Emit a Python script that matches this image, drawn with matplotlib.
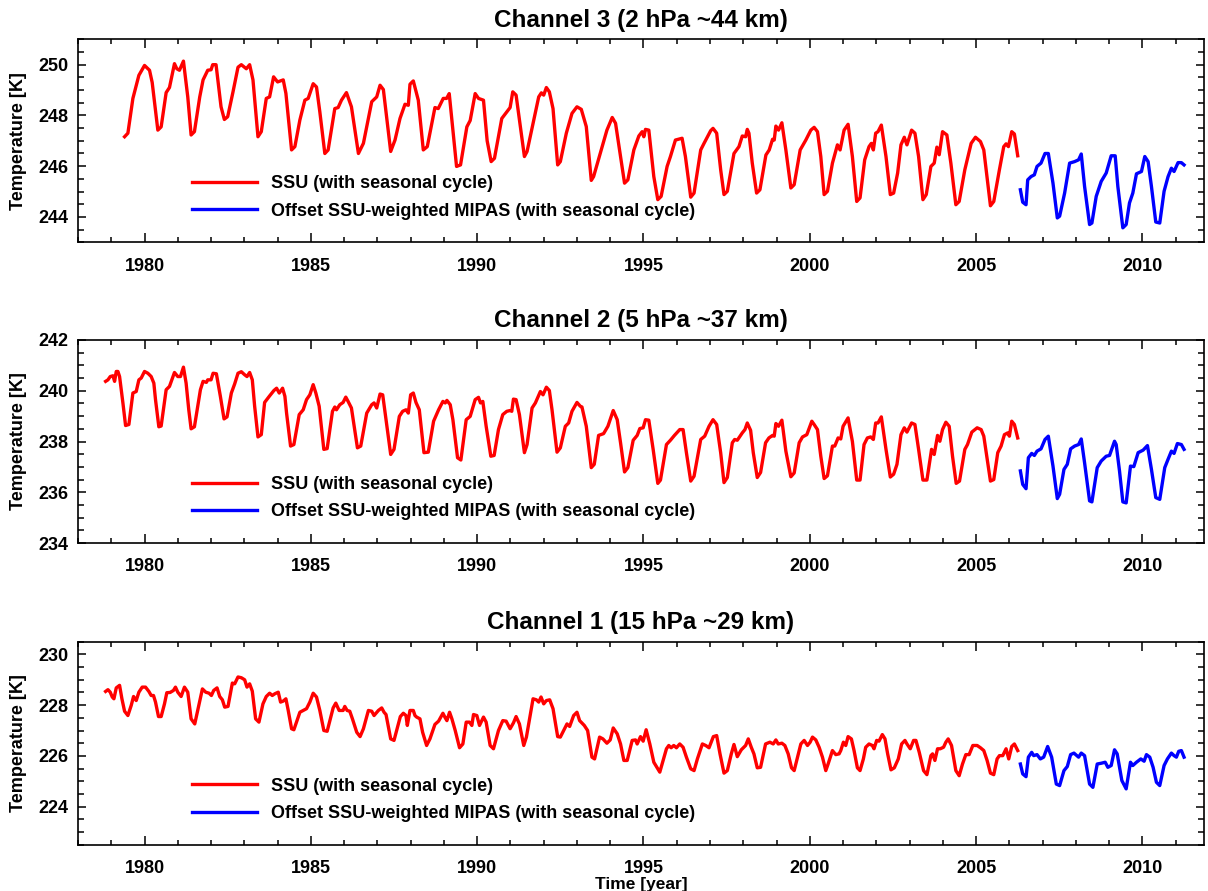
import matplotlib
matplotlib.use("Agg")
import matplotlib.pyplot as plt
from matplotlib.ticker import MultipleLocator

plt.rcParams['font.family'] = ['Liberation Sans', 'DejaVu Sans']
plt.rcParams['font.weight'] = 'bold'

# ---------------- Channel 3 (2 hPa) ----------------
ssu3_t = [1979.40, 1979.50, 1979.65, 1979.83, 1980.00, 1980.15, 1980.23, 1980.40, 1980.50, 1980.65,
          1980.75, 1980.90, 1980.97, 1981.05, 1981.17, 1981.30, 1981.40, 1981.50, 1981.66, 1981.76,
          1981.90, 1982.00, 1982.05, 1982.15, 1982.30, 1982.40, 1982.50, 1982.66, 1982.81, 1982.91,
          1983.06, 1983.16, 1983.26, 1983.41, 1983.51, 1983.66, 1983.76, 1983.88, 1984.00, 1984.17,
          1984.25, 1984.42, 1984.52, 1984.67, 1984.82, 1984.92, 1985.07, 1985.17, 1985.27, 1985.42,
          1985.52, 1985.72, 1985.82, 1985.92, 1986.07, 1986.22, 1986.43, 1986.58, 1986.83, 1986.98,
          1987.08, 1987.18, 1987.40, 1987.53, 1987.68, 1987.83, 1987.93, 1987.98, 1988.08, 1988.23,
          1988.38, 1988.50, 1988.73, 1988.83, 1988.98, 1989.08, 1989.16, 1989.38, 1989.50, 1989.69,
          1989.79, 1989.94, 1990.04, 1990.19, 1990.30, 1990.42, 1990.52, 1990.74, 1990.99, 1991.07,
          1991.17, 1991.42, 1991.50, 1991.70, 1991.85, 1991.93, 1992.00, 1992.08, 1992.17, 1992.28,
          1992.42, 1992.50, 1992.68, 1992.85, 1993.00, 1993.13, 1993.28, 1993.43, 1993.50, 1993.70,
          1993.90, 1994.06, 1994.16, 1994.31, 1994.43, 1994.53, 1994.71, 1994.86, 1994.96, 1995.01,
          1995.06, 1995.16, 1995.31, 1995.43, 1995.53, 1995.71, 1995.81, 1995.96, 1996.16, 1996.26,
          1996.42, 1996.52, 1996.72, 1996.82, 1997.02, 1997.09, 1997.20, 1997.32, 1997.42, 1997.52,
          1997.72, 1997.87, 1997.97, 1998.07, 1998.12, 1998.17, 1998.27, 1998.40, 1998.50, 1998.68,
          1998.78, 1998.88, 1998.93, 1998.98, 1999.06, 1999.16, 1999.28, 1999.43, 1999.53, 1999.71,
          1999.88, 2000.03, 2000.13, 2000.23, 2000.33, 2000.43, 2000.53, 2000.68, 2000.83, 2000.91,
          2001.03, 2001.15, 2001.28, 2001.41, 2001.51, 2001.65, 2001.78, 2001.85, 2001.91, 2001.98,
          2002.05, 2002.15, 2002.29, 2002.42, 2002.52, 2002.64, 2002.74, 2002.84, 2002.92, 2003.06,
          2003.16, 2003.27, 2003.40, 2003.50, 2003.64, 2003.74, 2003.82, 2003.89, 2003.99, 2004.12,
          2004.24, 2004.39, 2004.49, 2004.66, 2004.85, 2004.98, 2005.13, 2005.23, 2005.30, 2005.43,
          2005.53, 2005.70, 2005.83, 2005.90, 2005.97, 2006.07, 2006.15, 2006.25]
ssu3_v = [247.16, 247.30, 248.67, 249.58, 249.97, 249.78, 249.30, 247.42, 247.55, 248.90,
          249.10, 250.04, 249.84, 249.78, 250.14, 248.73, 247.23, 247.36, 248.73, 249.40,
          249.78, 249.80, 250.00, 250.00, 248.34, 247.84, 247.95, 248.93, 249.90, 250.00,
          249.84, 250.00, 249.40, 247.16, 247.36, 248.67, 248.73, 249.52, 249.32, 249.40,
          248.87, 246.64, 246.77, 247.82, 248.60, 248.67, 249.25, 249.12, 248.14, 246.50,
          246.64, 248.27, 248.31, 248.60, 248.90, 248.34, 246.50, 246.90, 248.54, 248.73,
          249.19, 249.02, 246.58, 247.03, 247.88, 248.44, 248.40, 249.23, 249.36, 248.60,
          246.64, 246.77, 248.31, 248.27, 248.67, 248.67, 248.86, 245.99, 246.05, 247.55,
          247.80, 248.86, 248.67, 248.60, 247.00, 246.18, 246.31, 247.88, 248.31, 248.93,
          248.80, 246.38, 246.58, 247.82, 248.73, 248.89, 248.80, 249.10, 248.93, 248.27,
          246.05, 246.18, 247.30, 248.08, 248.34, 248.24, 247.56, 245.44, 245.59, 246.50,
          247.42, 247.92, 247.69, 246.38, 245.33, 245.46, 246.64, 247.19, 247.36, 247.16,
          247.45, 247.42, 245.59, 244.68, 244.81, 245.99, 246.38, 247.03, 247.10, 246.38,
          244.78, 244.94, 246.64, 246.90, 247.40, 247.49, 247.30, 245.86, 244.88, 245.01,
          246.50, 246.77, 247.19, 247.16, 247.45, 247.30, 246.12, 244.94, 245.07, 246.44,
          246.64, 247.06, 247.03, 247.58, 247.42, 247.71, 246.64, 245.14, 245.27, 246.64,
          247.03, 247.42, 247.53, 247.36, 246.38, 244.88, 245.01, 246.12, 246.84, 246.64,
          247.42, 247.65, 246.38, 244.61, 244.75, 246.25, 246.77, 246.90, 246.64, 247.30,
          247.36, 247.62, 246.38, 244.88, 244.94, 245.73, 246.84, 247.14, 246.84, 247.42,
          247.30, 246.38, 244.68, 244.88, 245.99, 246.12, 246.75, 246.45, 247.36, 247.23,
          246.12, 244.48, 244.61, 245.86, 246.90, 247.14, 246.97, 246.64, 245.86, 244.44,
          244.61, 245.86, 246.77, 246.88, 246.77, 247.36, 247.27, 246.41]
mip3_t = [2006.33, 2006.40, 2006.50, 2006.55, 2006.65, 2006.75, 2006.83, 2006.95, 2007.07, 2007.17,
          2007.31, 2007.44, 2007.51, 2007.66, 2007.81, 2007.96, 2008.08, 2008.16, 2008.26, 2008.41,
          2008.48, 2008.61, 2008.76, 2008.91, 2009.06, 2009.18, 2009.26, 2009.41, 2009.51, 2009.61,
          2009.71, 2009.82, 2009.97, 2010.07, 2010.17, 2010.27, 2010.40, 2010.52, 2010.65, 2010.77,
          2010.87, 2010.95, 2011.07, 2011.17, 2011.25]
mip3_v = [245.07, 244.58, 244.48, 245.46, 245.59, 245.66, 245.99, 246.12, 246.50, 246.50,
          245.33, 243.96, 244.03, 244.94, 246.12, 246.18, 246.25, 246.48, 245.20, 243.70,
          243.76, 244.81, 245.40, 245.73, 246.41, 246.41, 245.20, 243.57, 243.70, 244.55,
          244.94, 245.70, 245.79, 246.38, 246.18, 245.20, 243.80, 243.76, 245.01, 245.59,
          245.92, 245.79, 246.14, 246.14, 246.05]

# ---------------- Channel 2 (5 hPa) ----------------
ssu2_t = [1978.83, 1978.90, 1978.97, 1979.05, 1979.10, 1979.15, 1979.20, 1979.25, 1979.35, 1979.43,
          1979.53, 1979.65, 1979.75, 1979.83, 1979.90, 1980.00, 1980.10, 1980.20, 1980.28, 1980.33,
          1980.43, 1980.50, 1980.65, 1980.75, 1980.90, 1981.00, 1981.08, 1981.17, 1981.25, 1981.33,
          1981.40, 1981.50, 1981.68, 1981.76, 1981.86, 1981.90, 1982.00, 1982.06, 1982.16, 1982.28,
          1982.39, 1982.48, 1982.61, 1982.71, 1982.81, 1982.91, 1983.01, 1983.08, 1983.16, 1983.24,
          1983.31, 1983.41, 1983.51, 1983.61, 1983.75, 1983.89, 1983.97, 1984.05, 1984.15, 1984.22,
          1984.27, 1984.39, 1984.49, 1984.65, 1984.77, 1984.87, 1984.97, 1985.07, 1985.15, 1985.25,
          1985.39, 1985.49, 1985.65, 1985.72, 1985.77, 1985.87, 1985.97, 1986.05, 1986.12, 1986.22,
          1986.40, 1986.50, 1986.68, 1986.83, 1986.90, 1986.98, 1987.08, 1987.16, 1987.26, 1987.40,
          1987.50, 1987.66, 1987.76, 1987.86, 1987.93, 1988.00, 1988.08, 1988.16, 1988.26, 1988.40,
          1988.53, 1988.69, 1988.84, 1988.97, 1989.04, 1989.09, 1989.19, 1989.27, 1989.41, 1989.51,
          1989.67, 1989.79, 1989.94, 1990.04, 1990.10, 1990.17, 1990.27, 1990.41, 1990.51, 1990.64,
          1990.77, 1990.89, 1990.99, 1991.04, 1991.09, 1991.17, 1991.27, 1991.42, 1991.50, 1991.65,
          1991.75, 1991.90, 1991.98, 1992.08, 1992.17, 1992.25, 1992.40, 1992.50, 1992.65, 1992.75,
          1992.85, 1993.00, 1993.10, 1993.15, 1993.28, 1993.43, 1993.52, 1993.65, 1993.80, 1993.93,
          1994.09, 1994.21, 1994.31, 1994.43, 1994.53, 1994.69, 1994.81, 1994.89, 1994.99, 1995.06,
          1995.16, 1995.29, 1995.43, 1995.51, 1995.69, 1995.81, 1995.93, 1996.09, 1996.19, 1996.29,
          1996.42, 1996.52, 1996.72, 1996.84, 1996.97, 1997.09, 1997.20, 1997.32, 1997.42, 1997.52,
          1997.67, 1997.74, 1997.82, 1997.97, 1998.05, 1998.12, 1998.22, 1998.30, 1998.42, 1998.52,
          1998.67, 1998.77, 1998.88, 1998.93, 1998.98, 1999.06, 1999.16, 1999.28, 1999.43, 1999.53,
          1999.68, 1999.78, 1999.91, 2000.06, 2000.13, 2000.23, 2000.33, 2000.43, 2000.53, 2000.68,
          2000.75, 2000.85, 2000.93, 2001.00, 2001.15, 2001.28, 2001.41, 2001.51, 2001.63, 2001.73,
          2001.83, 2001.91, 2001.98, 2002.05, 2002.15, 2002.29, 2002.42, 2002.52, 2002.62, 2002.74,
          2002.84, 2002.92, 2003.06, 2003.16, 2003.27, 2003.40, 2003.52, 2003.66, 2003.74, 2003.84,
          2003.91, 2003.99, 2004.09, 2004.19, 2004.29, 2004.40, 2004.50, 2004.66, 2004.74, 2004.87,
          2005.03, 2005.15, 2005.23, 2005.32, 2005.43, 2005.53, 2005.65, 2005.75, 2005.85, 2005.95,
          2006.00, 2006.07, 2006.15, 2006.25]
ssu2_v = [240.37, 240.43, 240.56, 240.59, 240.37, 240.76, 240.76, 240.56, 239.52, 238.63,
          238.67, 239.91, 239.97, 240.43, 240.50, 240.76, 240.69, 240.56, 240.30, 239.65,
          238.58, 238.61, 240.04, 240.17, 240.72, 240.56, 240.56, 240.93, 240.30, 239.25,
          238.50, 238.58, 240.04, 240.37, 240.33, 240.43, 240.43, 240.69, 240.67, 239.78,
          238.89, 238.97, 239.91, 240.27, 240.69, 240.75, 240.63, 240.56, 240.72, 240.43,
          239.39, 238.18, 238.27, 239.54, 239.78, 240.01, 240.10, 239.91, 240.10, 239.78,
          239.12, 237.82, 237.88, 239.06, 239.25, 239.65, 239.84, 240.24, 239.91, 239.39,
          237.69, 237.72, 239.19, 239.36, 239.25, 239.45, 239.54, 239.75, 239.58, 239.32,
          237.75, 237.82, 239.12, 239.45, 239.52, 239.32, 239.87, 239.84, 238.86, 237.49,
          237.69, 238.99, 239.19, 239.25, 239.12, 239.84, 239.91, 239.54, 239.25, 237.56,
          237.58, 238.80, 239.25, 239.58, 239.52, 239.62, 239.45, 238.86, 237.36, 237.27,
          238.86, 238.99, 239.65, 239.74, 239.52, 239.58, 238.60, 237.42, 237.45, 238.47,
          239.06, 239.19, 239.22, 239.19, 239.67, 239.65, 239.06, 237.56, 237.88, 239.32,
          239.52, 239.97, 239.84, 240.14, 240.01, 239.25, 237.58, 237.75, 238.60, 238.73,
          239.19, 239.54, 239.39, 239.36, 238.60, 236.97, 237.10, 238.24, 238.31, 238.60,
          239.22, 238.86, 237.95, 236.80, 236.97, 238.05, 238.24, 238.51, 238.54, 238.86,
          238.84, 237.69, 236.35, 236.48, 237.88, 238.05, 238.24, 238.47, 238.47, 237.56,
          236.44, 236.63, 238.08, 238.21, 238.60, 238.86, 238.67, 237.56, 236.38, 236.58,
          237.95, 238.08, 238.05, 238.34, 238.47, 238.73, 238.44, 237.56, 236.58, 236.78,
          237.95, 238.14, 238.24, 238.21, 238.71, 238.60, 238.84, 237.62, 236.61, 236.76,
          237.95, 238.18, 238.27, 238.80, 238.67, 238.47, 237.42, 236.54, 236.65, 237.82,
          237.82, 238.14, 238.10, 238.60, 238.93, 238.00, 236.48, 236.48, 237.88, 238.14,
          238.18, 238.08, 238.73, 238.73, 238.97, 237.69, 236.60, 236.71, 237.10, 238.27,
          238.54, 238.37, 238.73, 238.67, 237.69, 236.48, 236.48, 237.69, 237.49, 238.24,
          238.01, 238.47, 238.76, 238.60, 237.42, 236.35, 236.44, 237.69, 237.88, 238.37,
          238.54, 238.47, 238.21, 237.42, 236.44, 236.50, 237.56, 237.82, 238.27, 238.34,
          238.21, 238.80, 238.67, 238.14]
mip2_t = [2006.33, 2006.40, 2006.50, 2006.57, 2006.67, 2006.75, 2006.83, 2006.95, 2007.07, 2007.17,
          2007.31, 2007.44, 2007.51, 2007.64, 2007.74, 2007.84, 2007.96, 2008.08, 2008.16, 2008.26,
          2008.41, 2008.48, 2008.64, 2008.76, 2008.91, 2009.01, 2009.16, 2009.21, 2009.31, 2009.41,
          2009.51, 2009.64, 2009.74, 2009.87, 2010.02, 2010.15, 2010.27, 2010.40, 2010.52, 2010.67,
          2010.77, 2010.87, 2010.95, 2011.05, 2011.17, 2011.25]
mip2_v = [236.84, 236.31, 236.14, 237.36, 237.53, 237.45, 237.62, 237.71, 238.08, 238.21,
          237.03, 235.75, 235.92, 236.90, 237.10, 237.71, 237.82, 237.88, 238.10, 237.16,
          235.66, 235.62, 236.97, 237.23, 237.42, 237.45, 238.01, 237.88, 236.84, 235.62,
          235.58, 237.03, 237.01, 237.56, 237.66, 237.84, 236.90, 235.79, 235.72, 236.97,
          237.30, 237.62, 237.53, 237.92, 237.88, 237.69]

# ---------------- Channel 1 (15 hPa) ----------------
ssu1_t = [1978.83, 1978.90, 1978.97, 1979.03, 1979.08, 1979.15, 1979.25, 1979.32, 1979.40, 1979.50,
          1979.60, 1979.67, 1979.75, 1979.83, 1979.93, 1980.03, 1980.13, 1980.20, 1980.27, 1980.33,
          1980.42, 1980.50, 1980.60, 1980.67, 1980.77, 1980.87, 1980.93, 1981.00, 1981.10, 1981.20,
          1981.30, 1981.40, 1981.51, 1981.61, 1981.74, 1981.84, 1981.94, 1982.01, 1982.08, 1982.18,
          1982.26, 1982.34, 1982.41, 1982.51, 1982.64, 1982.71, 1982.81, 1982.91, 1983.01, 1983.08,
          1983.16, 1983.24, 1983.34, 1983.44, 1983.56, 1983.66, 1983.76, 1983.84, 1983.92, 1984.02,
          1984.09, 1984.17, 1984.25, 1984.32, 1984.42, 1984.49, 1984.67, 1984.77, 1984.87, 1984.97,
          1985.07, 1985.17, 1985.27, 1985.39, 1985.49, 1985.67, 1985.75, 1985.85, 1985.97, 1986.02,
          1986.09, 1986.17, 1986.25, 1986.38, 1986.48, 1986.58, 1986.73, 1986.83, 1986.90, 1987.03,
          1987.13, 1987.20, 1987.26, 1987.40, 1987.50, 1987.63, 1987.69, 1987.78, 1987.86, 1987.90,
          1987.98, 1988.08, 1988.13, 1988.18, 1988.28, 1988.36, 1988.48, 1988.58, 1988.73, 1988.84,
          1988.97, 1989.04, 1989.09, 1989.17, 1989.24, 1989.34, 1989.47, 1989.57, 1989.67, 1989.77,
          1989.84, 1989.89, 1989.99, 1990.07, 1990.19, 1990.27, 1990.39, 1990.49, 1990.64, 1990.77,
          1990.87, 1990.99, 1991.09, 1991.17, 1991.27, 1991.40, 1991.48, 1991.60, 1991.68, 1991.78,
          1991.85, 1991.92, 1992.00, 1992.08, 1992.18, 1992.28, 1992.42, 1992.50, 1992.60, 1992.70,
          1992.78, 1992.90, 1993.00, 1993.08, 1993.22, 1993.32, 1993.45, 1993.53, 1993.68, 1993.78,
          1993.90, 1994.00, 1994.09, 1994.21, 1994.31, 1994.41, 1994.51, 1994.66, 1994.76, 1994.81,
          1994.91, 1994.99, 1995.08, 1995.19, 1995.31, 1995.49, 1995.59, 1995.69, 1995.76, 1995.83,
          1995.91, 1995.99, 1996.09, 1996.19, 1996.29, 1996.42, 1996.52, 1996.62, 1996.77, 1996.87,
          1996.97, 1997.10, 1997.20, 1997.30, 1997.42, 1997.52, 1997.64, 1997.72, 1997.82, 1997.94,
          1998.07, 1998.15, 1998.24, 1998.32, 1998.42, 1998.52, 1998.67, 1998.80, 1998.90, 1998.98,
          1999.05, 1999.16, 1999.25, 1999.35, 1999.45, 1999.53, 1999.63, 1999.73, 1999.83, 1999.93,
          2000.01, 2000.08, 2000.18, 2000.28, 2000.38, 2000.48, 2000.55, 2000.68, 2000.78, 2000.88,
          2000.93, 2001.01, 2001.08, 2001.15, 2001.25, 2001.33, 2001.43, 2001.51, 2001.61, 2001.68,
          2001.78, 2001.88, 2001.93, 2002.01, 2002.08, 2002.18, 2002.26, 2002.34, 2002.44, 2002.54,
          2002.66, 2002.76, 2002.86, 2002.92, 2003.02, 2003.12, 2003.19, 2003.29, 2003.42, 2003.52,
          2003.64, 2003.69, 2003.76, 2003.84, 2003.92, 2004.02, 2004.09, 2004.16, 2004.26, 2004.39,
          2004.49, 2004.59, 2004.69, 2004.79, 2004.90, 2005.03, 2005.13, 2005.23, 2005.33, 2005.43,
          2005.53, 2005.63, 2005.70, 2005.80, 2005.90, 2005.98, 2006.07, 2006.15, 2006.25]
ssu1_v = [228.54, 228.61, 228.51, 228.32, 228.25, 228.68, 228.78, 228.25, 227.76, 227.59,
          227.99, 228.34, 228.18, 228.51, 228.71, 228.71, 228.54, 228.38, 228.38, 228.12,
          227.55, 227.55, 228.05, 228.49, 228.50, 228.58, 228.71, 228.51, 228.34, 228.71,
          228.51, 227.46, 227.26, 227.86, 228.64, 228.51, 228.47, 228.38, 228.58, 228.68,
          228.34, 228.21, 227.92, 227.95, 228.87, 228.84, 229.11, 229.08, 229.00, 228.71,
          228.84, 228.55, 227.46, 227.33, 228.05, 228.34, 228.47, 228.38, 228.45, 228.51,
          228.12, 228.16, 228.25, 227.79, 227.07, 227.03, 227.72, 227.79, 227.86, 228.12,
          228.47, 228.32, 227.79, 227.00, 226.97, 227.89, 228.08, 227.79, 227.79, 227.95,
          227.79, 227.76, 227.46, 226.93, 226.76, 227.07, 227.79, 227.76, 227.59, 227.79,
          227.89, 227.72, 227.63, 226.67, 226.61, 227.26, 227.55, 227.68, 227.59, 227.20,
          227.79, 227.79, 227.59, 227.53, 227.46, 226.93, 226.41, 226.67, 227.24, 227.37,
          227.68, 227.50, 227.39, 227.72, 227.46, 227.00, 226.32, 226.47, 227.33, 227.33,
          227.20, 227.63, 227.59, 227.20, 227.53, 227.33, 226.41, 226.28, 227.00, 227.39,
          227.37, 227.07, 227.30, 227.55, 227.26, 226.41, 226.74, 227.66, 228.25, 228.21,
          228.12, 228.32, 228.05, 228.18, 228.21, 227.86, 226.76, 226.74, 227.00, 227.26,
          227.16, 227.59, 227.72, 227.39, 227.20, 227.00, 225.95, 225.88, 226.74, 226.67,
          226.50, 226.63, 227.10, 226.87, 226.47, 225.82, 225.82, 226.61, 226.63, 226.47,
          226.76, 226.58, 227.03, 226.47, 225.75, 225.36, 225.82, 226.28, 226.41, 226.32,
          226.41, 226.32, 226.47, 226.34, 225.95, 225.49, 225.42, 225.88, 226.47, 226.41,
          226.32, 226.76, 226.80, 226.08, 225.32, 225.42, 226.08, 226.45, 225.97, 226.24,
          226.41, 226.67, 226.34, 226.08, 225.53, 225.55, 226.47, 226.54, 226.47, 226.63,
          226.47, 226.50, 226.41, 226.08, 225.53, 225.42, 225.95, 226.47, 226.61, 226.41,
          226.54, 226.74, 226.63, 226.34, 225.95, 225.42, 225.68, 226.21, 226.05, 226.08,
          226.21, 226.54, 226.41, 226.76, 226.67, 226.21, 225.53, 225.42, 225.88, 226.34,
          226.47, 226.41, 226.28, 226.61, 226.58, 226.84, 226.67, 226.08, 225.45, 225.53,
          225.88, 226.47, 226.61, 226.47, 226.28, 226.61, 226.61, 226.14, 225.42, 225.26,
          226.01, 226.08, 225.82, 226.28, 226.28, 226.34, 226.54, 226.67, 226.41, 225.42,
          225.22, 225.68, 226.05, 226.05, 226.41, 226.41, 226.32, 226.21, 225.82, 225.32,
          225.26, 225.88, 226.01, 226.01, 226.28, 225.88, 226.37, 226.47, 226.21]
mip1_t = [2006.33, 2006.40, 2006.50, 2006.57, 2006.67, 2006.73, 2006.83, 2006.93, 2007.03, 2007.15,
          2007.27, 2007.41, 2007.51, 2007.64, 2007.74, 2007.84, 2007.94, 2008.08, 2008.16, 2008.26,
          2008.41, 2008.51, 2008.64, 2008.76, 2008.88, 2008.96, 2009.06, 2009.16, 2009.24, 2009.38,
          2009.51, 2009.64, 2009.71, 2009.82, 2009.95, 2010.05, 2010.12, 2010.22, 2010.32, 2010.42,
          2010.52, 2010.65, 2010.75, 2010.87, 2010.95, 2011.02, 2011.09, 2011.17, 2011.25]
mip1_v = [225.68, 225.29, 225.18, 225.95, 226.14, 226.01, 226.05, 225.88, 225.95, 226.37,
          225.95, 224.89, 224.83, 225.42, 225.58, 226.05, 226.11, 225.95, 226.11, 226.01,
          224.89, 224.76, 225.68, 225.71, 225.75, 225.55, 225.62, 226.24, 226.08, 225.03,
          224.70, 225.75, 225.62, 225.75, 225.88, 225.79, 226.05, 225.95, 225.55, 224.96,
          224.83, 225.62, 225.88, 226.11, 226.01, 225.95, 226.18, 226.21, 225.95]

titles = ["Channel 3 (2 hPa ~44 km)", "Channel 2 (5 hPa ~37 km)", "Channel 1 (15 hPa ~29 km)"]
ylims = [(243, 251), (234, 242), (222.5, 230.5)]
series = [(ssu3_t, ssu3_v, mip3_t, mip3_v),
          (ssu2_t, ssu2_v, mip2_t, mip2_v),
          (ssu1_t, ssu1_v, mip1_t, mip1_v)]
label_ssu = "SSU (with seasonal cycle)"
label_mip = "Offset SSU-weighted MIPAS (with seasonal cycle)"
xticks = [1980, 1985, 1990, 1995, 2000, 2005, 2010]

W, H = 1208, 891
fig = plt.figure(figsize=(W / 100, H / 100), dpi=100)
tops = [39.3, 340.0, 641.7]
ax_h = 203.0
left, right = 78.0, 1204.0

for i in range(3):
    ax = fig.add_axes([left / W, 1 - (tops[i] + ax_h) / H, (right - left) / W, ax_h / H])
    st, sv, mt, mv = series[i]
    ax.plot(st, sv, color='#ff0000', lw=2.4, label=label_ssu, solid_joinstyle='round')
    ax.plot(mt, mv, color='#0000ff', lw=2.4, label=label_mip, solid_joinstyle='round')
    ax.set_xlim(1978, 2011.85)
    ax.set_ylim(*ylims[i])
    ax.set_xticks(xticks)
    ax.xaxis.set_minor_locator(MultipleLocator(1))
    ax.yaxis.set_major_locator(MultipleLocator(2))
    ax.yaxis.set_minor_locator(MultipleLocator(0.5))
    ax.tick_params(axis='both', which='both', direction='in', top=True, right=True, width=1.1)
    ax.tick_params(axis='x', which='major', length=6.5, pad=11, labelsize=13)
    ax.tick_params(axis='x', which='minor', length=3.6)
    ax.tick_params(axis='y', which='major', length=5.5, pad=7, labelsize=13)
    ax.tick_params(axis='y', which='minor', length=4.5)
    for sp in ax.spines.values():
        sp.set_linewidth(1.2)
    ax.set_ylabel("Temperature [K]", fontsize=13, fontweight='bold', labelpad=8)
    ax.set_title(titles[i], fontsize=17.5, fontweight='bold', pad=9)
    ax.legend(loc='upper left', bbox_to_anchor=(0.101, 0.33), frameon=False,
              handlelength=3.6, handletextpad=0.8, labelspacing=0.58,
              borderpad=0, borderaxespad=0, prop={'size': 13, 'weight': 'bold'})
    if i == 2:
        ax.set_xlabel("Time [year]", fontsize=12.5, fontweight='bold', labelpad=0)

fig.savefig("out.png", dpi=100)
